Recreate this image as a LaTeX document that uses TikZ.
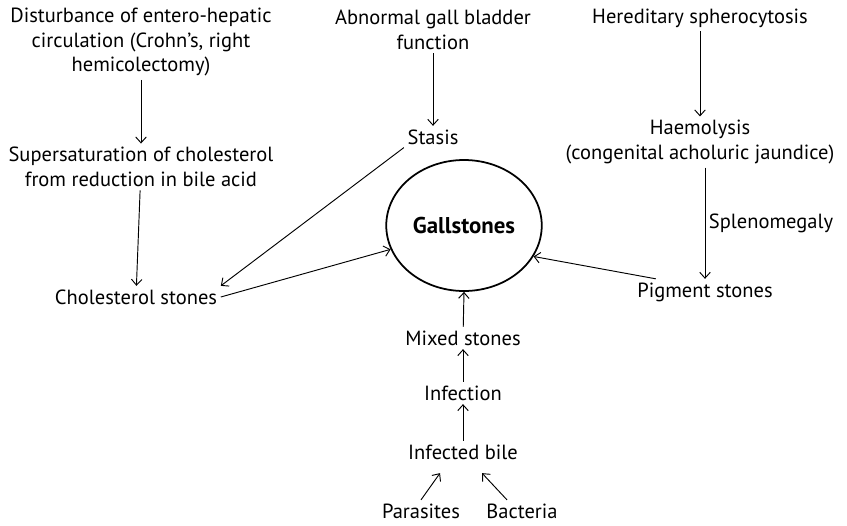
\documentclass[tikz,border=0pt]{standalone}
\usepackage{fontspec}
\setmainfont{PT Sans}
\usetikzlibrary{shapes.geometric, arrows.meta, positioning}

\begin{document}
\begin{tikzpicture}[x=0.03cm,y=-0.03cm,
        txt/.style={font=\fontsize{17.5}{21}\selectfont,align=center,inner sep=3pt},
        stone/.style={ellipse,draw,line width=1.5pt,minimum width=144*0.03cm,
                      minimum height=131*0.03cm,font=\fontsize{19.5}{23}\selectfont\bfseries},
        arrow/.style={-{Straight Barb[length=5pt,width=9pt]},line width=0.8pt}]
        \useasboundingbox (0,0) rectangle (847,525);

        % left column
        \node[txt] (dist) at (141,42) {Disturbance of entero-hepatic\\circulation (Crohn’s, right\\hemicolectomy)};
        \node[txt] (super) at (141,167) {Supersaturation of cholesterol\\from reduction in bile acid};
        \node[txt] (chol) at (136,297) {Cholesterol stones};

        % middle column
        \node[txt] (abn) at (433,30) {Abnormal gall bladder\\function};
        \node[txt] (stasis) at (433,137) {Stasis};
        \node[stone] (gall) at (464,225.5) {Gallstones};
        \node[txt] (mixed) at (463,338) {Mixed stones};
        \node[txt] (infect) at (463,393) {Infection};
        \node[txt] (bile) at (463,452) {Infected bile};
        \node[txt] (paras) at (421,511) {Parasites};
        \node[txt] (bact) at (522,511) {Bacteria};

        % right column
        \node[txt] (hered) at (700,18) {Hereditary spherocytosis};
        \node[txt] (haem) at (700,142) {Haemolysis\\(congenital acholuric jaundice)};
        \node[txt] (pigm) at (705,292) {Pigment stones};

        \draw[arrow] (dist)--(super); \draw[arrow] (super)--(chol);
        \draw[arrow] (abn)--(stasis);
        \draw[arrow] (stasis.200) -- (chol.north east);
        \draw[arrow] (chol.east) -- (gall.198);
        \draw[arrow] (pigm.165) -- (gall.336);
        \draw[arrow] (hered)--(haem);
        \draw[arrow] (haem.south -| pigm.north) -- node[txt,right] {Splenomegaly} (pigm.north);
        \draw[arrow] (mixed)--(gall.270);
        \draw[arrow] (infect)--(mixed); \draw[arrow] (bile)--(infect);
        \draw[arrow] (paras.north) -- ([shift={(-23,10)}]bile.south);
        \draw[arrow] ([shift={(-15,0)}]bact.north) -- ([shift={(19,10)}]bile.south);
\end{tikzpicture}
\end{document}
